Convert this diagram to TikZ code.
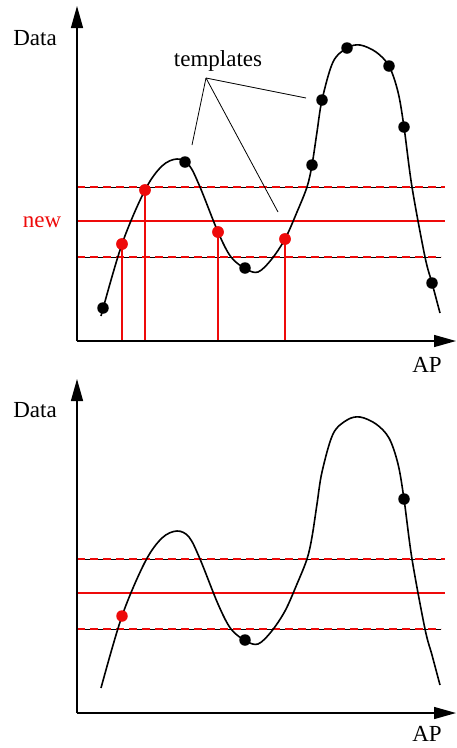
\documentclass[tikz,border=0pt]{standalone}
\usepackage{fontspec}
\setmainfont{Liberation Serif}
\usetikzlibrary{arrows.meta}
\definecolor{myred}{RGB}{238,10,10}
\tikzset{
  axis/.style={line width=1.4pt,-{Triangle[length=22pt,width=12pt]}},
  curve/.style={line width=1.6pt},
  bdot/.style={circle,fill=black,inner sep=0pt,minimum size=11.5pt},
  rdot/.style={circle,fill=myred,inner sep=0pt,minimum size=11.5pt},
  label/.style={font=\fontsize{23}{27}\selectfont,inner sep=0pt},
  refline/.style={line width=1pt,black},
  reddash/.style={line width=1.3pt,myred,dash pattern=on 8pt off 5pt},
  redsolid/.style={line width=1.3pt,myred},
  redvert/.style={line width=1.3pt,myred},
  tline/.style={line width=0.8pt},
}
\newcommand\mycurve{%
  \draw[curve] plot[smooth,tension=0.55] coordinates {
    (101,316) (122,244) (145,190) (162,166) (177,159) (189,165)
    (200,187) (218,232) (231,257) (246,269) (258,272) (271,260)
    (285,239) (297,212) (307,187) (312,165) (317,132) (322,100)
    (333,62) (347,48) (360,45) (376,52) (389,66) (398,92)
    (404,127) (412,187) (425,257) (432,283) (440,313)};}
\begin{document}
\begin{tikzpicture}[x=1pt,y=-1pt]
\useasboundingbox (0,0) rectangle (456,748);
% ---------- top panel ----------
\begin{scope}
  \coordinate (o1) at (77,341);
  \coordinate (yt1) at (77,6);
  \coordinate (xt1) at (456,341);
  \coordinate (hu1) at (445,187); \coordinate (hul1) at (77,187);
  \coordinate (hm1) at (445,221); \coordinate (hml1) at (77,221);
  \coordinate (hl1) at (441,257); \coordinate (hll1) at (77,257);
  \draw[refline] (hul1) -- (hu1);
  \draw[reddash] (hul1) -- (hu1);
  \draw[refline] (hll1) -- (hl1);
  \draw[reddash] (hll1) -- (hl1);
  \draw[redsolid] (hml1) -- (hm1);
  \node[rdot] (r1) at (122,244) {};
  \node[rdot] (r2) at (145,190) {};
  \node[rdot] (r3) at (218,232) {};
  \node[rdot] (r4) at (285,239) {};
  \coordinate (b1) at (122,341); \coordinate (b2) at (145,341);
  \coordinate (b3) at (218,341); \coordinate (b4) at (285,341);
  \draw[redvert] (r1.center) -- (b1);
  \draw[redvert] (r2.center) -- (b2);
  \draw[redvert] (r3.center) -- (b3);
  \draw[redvert] (r4.center) -- (b4);
  \mycurve
  \node[rdot] at (r1) {};
  \node[rdot] at (r2) {};
  \node[rdot] at (r3) {};
  \node[rdot] at (r4) {};
  \node[bdot] (k1) at (103,308) {};
  \node[bdot] (k2) at (185,162) {};
  \node[bdot] (k3) at (245,268) {};
  \node[bdot] (k4) at (312,165) {};
  \node[bdot] (k5) at (322,100) {};
  \node[bdot] (k6) at (347,48) {};
  \node[bdot] (k7) at (389,66) {};
  \node[bdot] (k8) at (404,127) {};
  \node[bdot] (k9) at (432,283) {};
  \draw[axis] (o1) -- (yt1);
  \draw[axis] (o1) -- (xt1);
  \node[label,anchor=base] (data1) at (35,45) {Data};
  \node[label,anchor=base] (ap1) at (427,372) {AP};
  \node[label,anchor=base,text=myred] (new) at (42,227) {new};
  \node[label,anchor=base] (tmpl) at (218,66) {templates};
  \coordinate (tc) at (206,78);
  \coordinate (te1) at (192,145);
  \coordinate (te2) at (278,212);
  \coordinate (te3) at (306,98);
  \draw[tline] (tc) -- (te1);
  \draw[tline] (tc) -- (te2);
  \draw[tline] (tc) -- (te3);
\end{scope}
% ---------- bottom panel ----------
\begin{scope}[shift={(0,372)}]
  \coordinate (o2) at (77,341);
  \coordinate (yt2) at (77,7);
  \coordinate (xt2) at (456,341);
  \coordinate (hu2) at (445,187); \coordinate (hul2) at (77,187);
  \coordinate (hm2) at (445,221); \coordinate (hml2) at (77,221);
  \coordinate (hl2) at (441,257); \coordinate (hll2) at (77,257);
  \draw[refline] (hul2) -- (hu2);
  \draw[reddash] (hul2) -- (hu2);
  \draw[refline] (hll2) -- (hl2);
  \draw[reddash] (hll2) -- (hl2);
  \draw[redsolid] (hml2) -- (hm2);
  \mycurve
  \node[rdot] (s1) at (122,244) {};
  \node[bdot] (m1) at (245,268) {};
  \node[bdot] (m2) at (404,127) {};
  \draw[axis] (o2) -- (yt2);
  \draw[axis] (o2) -- (xt2);
  \node[label,anchor=base] (data2) at (35,45) {Data};
  \node[label,anchor=base] (ap2) at (427,369) {AP};
\end{scope}
\end{tikzpicture}
\end{document}
